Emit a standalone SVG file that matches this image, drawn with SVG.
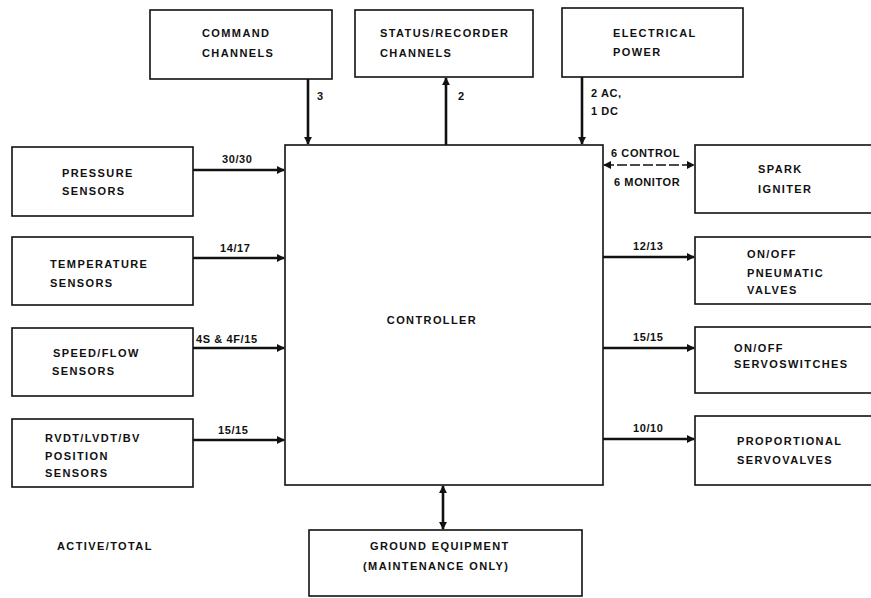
<svg xmlns="http://www.w3.org/2000/svg" width="871" height="598" viewBox="0 0 871 598">
<style>
.box{fill:#fff;stroke:#111;stroke-width:1.6}
text{font-family:"Liberation Sans",Arial,sans-serif;font-weight:bold;font-size:11px;letter-spacing:1.4px;fill:#111}
.lbl{letter-spacing:0.6px}
.wire{stroke:#111;stroke-width:2.6;fill:none}
.thin{stroke:#111;stroke-width:1.6;fill:none}
</style>
<defs>
<marker id="ah" viewBox="0 0 10 10" refX="9" refY="5" markerWidth="3.2" markerHeight="3.2" orient="auto-start-reverse">
<path d="M0,0 L10,5 L0,10 z" fill="#111"/>
</marker>
<marker id="ah2" viewBox="0 0 10 10" refX="9" refY="5" markerWidth="5" markerHeight="5" orient="auto-start-reverse">
<path d="M0,0 L10,5 L0,10 z" fill="#111"/>
</marker>
</defs>
<rect width="871" height="598" fill="#fff"/>

<g id="command">
<rect class="box" x="150" y="10" width="182" height="69"/>
<text x="202" y="37">COMMAND</text>
<text x="202" y="57">CHANNELS</text>
</g>
<g id="status">
<rect class="box" x="355" y="10" width="178" height="67"/>
<text x="380" y="37">STATUS/RECORDER</text>
<text x="380" y="57">CHANNELS</text>
</g>
<g id="power">
<rect class="box" x="562" y="8" width="181" height="69"/>
<text x="613" y="37">ELECTRICAL</text>
<text x="613" y="56">POWER</text>
</g>
<g id="controller">
<rect class="box" x="285" y="145" width="318" height="340"/>
<text x="432" y="324" text-anchor="middle">CONTROLLER</text>
</g>
<g id="pressure">
<rect class="box" x="12" y="147" width="181" height="69"/>
<text x="62" y="177">PRESSURE</text>
<text x="62" y="195">SENSORS</text>
</g>
<g id="temperature">
<rect class="box" x="12" y="237" width="181" height="68"/>
<text x="50" y="268">TEMPERATURE</text>
<text x="50" y="287">SENSORS</text>
</g>
<g id="speed">
<rect class="box" x="12" y="328" width="181" height="68"/>
<text x="53" y="357">SPEED/FLOW</text>
<text x="52" y="375">SENSORS</text>
</g>
<g id="position">
<rect class="box" x="12" y="419" width="181" height="68"/>
<text x="45" y="442">RVDT/LVDT/BV</text>
<text x="45" y="460">POSITION</text>
<text x="45" y="477">SENSORS</text>
</g>
<g id="spark">
<rect class="box" x="695" y="145" width="200" height="68"/>
<text x="758" y="173">SPARK</text>
<text x="758" y="193">IGNITER</text>
</g>
<g id="pneumatic">
<rect class="box" x="695" y="237" width="200" height="67"/>
<text x="747" y="258">ON/OFF</text>
<text x="747" y="277">PNEUMATIC</text>
<text x="747" y="294">VALVES</text>
</g>
<g id="servoswitches">
<rect class="box" x="695" y="327" width="200" height="66"/>
<text x="734" y="352">ON/OFF</text>
<text x="734" y="368">SERVOSWITCHES</text>
</g>
<g id="servovalves">
<rect class="box" x="695" y="416" width="200" height="69"/>
<text x="737" y="445">PROPORTIONAL</text>
<text x="737" y="464">SERVOVALVES</text>
</g>
<g id="ground">
<rect class="box" x="309" y="530" width="273" height="66"/>
<text x="370" y="550">GROUND EQUIPMENT</text>
<text x="363" y="570">(MAINTENANCE ONLY)</text>
</g>
<g id="legend">
<text x="57" y="550">ACTIVE/TOTAL</text>
</g>

<g id="connectors">
<line class="wire" x1="308" y1="79" x2="308" y2="144" marker-end="url(#ah)"/>
<text class="lbl" x="317" y="100">3</text>
<line class="wire" x1="446" y1="145" x2="446" y2="78" marker-end="url(#ah)"/>
<text class="lbl" x="458" y="100">2</text>
<line class="wire" x1="582" y1="77" x2="582" y2="144" marker-end="url(#ah)"/>
<text class="lbl" x="591" y="97">2 AC,</text>
<text class="lbl" x="591" y="115">1 DC</text>

<line class="wire" x1="193" y1="170" x2="284" y2="170" marker-end="url(#ah)"/>
<text class="lbl" x="222" y="163">30/30</text>
<line class="wire" x1="193" y1="258" x2="284" y2="258" marker-end="url(#ah)"/>
<text class="lbl" x="220" y="252">14/17</text>
<line class="wire" x1="193" y1="348" x2="284" y2="348" marker-end="url(#ah)"/>
<text class="lbl" x="196" y="343">4S &amp; 4F/15</text>
<line class="wire" x1="193" y1="440" x2="284" y2="440" marker-end="url(#ah)"/>
<text class="lbl" x="218" y="434">15/15</text>

<line class="thin" x1="604" y1="165" x2="694" y2="165" stroke-dasharray="10,3" marker-start="url(#ah2)" marker-end="url(#ah2)"/>
<text class="lbl" x="611" y="157">6 CONTROL</text>
<text class="lbl" x="614" y="186">6 MONITOR</text>
<line class="wire" x1="603" y1="257" x2="694" y2="257" marker-end="url(#ah)"/>
<text class="lbl" x="633" y="250">12/13</text>
<line class="wire" x1="603" y1="348" x2="694" y2="348" marker-end="url(#ah)"/>
<text class="lbl" x="633" y="341">15/15</text>
<line class="wire" x1="603" y1="439" x2="694" y2="439" marker-end="url(#ah)"/>
<text class="lbl" x="633" y="432">10/10</text>

<line class="wire" x1="443" y1="486" x2="443" y2="529" marker-start="url(#ah)" marker-end="url(#ah)"/>
</g>
</svg>
